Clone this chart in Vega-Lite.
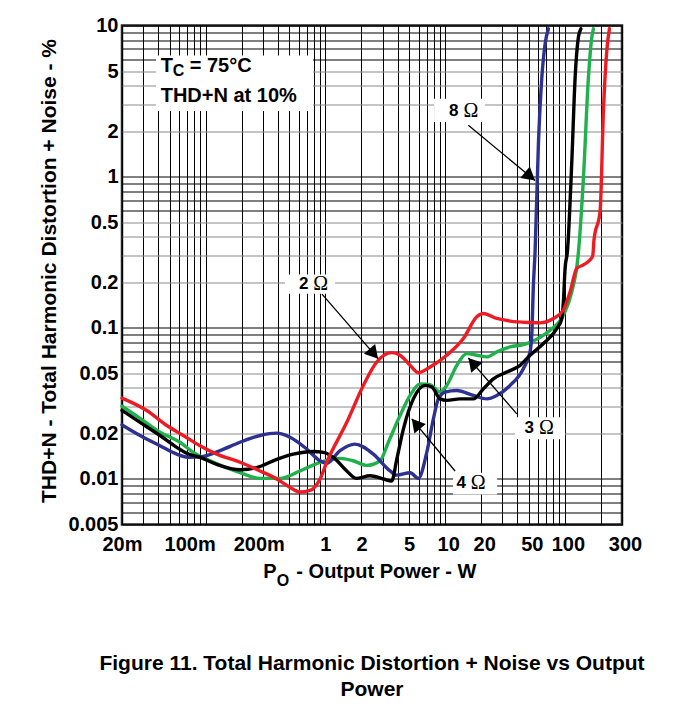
{
  "$schema": "https://vega.github.io/schema/vega-lite/v6.json",
  "width": 500,
  "height": 499,
  "autosize": "none",
  "padding": {"left": 122, "top": 25.5, "right": 54, "bottom": 185.5},
  "background": "white",
  "config": {"view": {"stroke": "#222222", "strokeWidth": 2.5}, "font": "Liberation Sans"},
  "title": {
    "text": ["Figure 11. Total Harmonic Distortion + Noise vs Output", "Power"],
    "orient": "bottom", "anchor": "middle", "frame": "group",
    "font": "Liberation Sans", "fontSize": 21, "fontWeight": "bold", "color": "#000000",
    "lineHeight": 26, "offset": 64
  },
  "datasets": {
    "curves": [
      {"load": "3 Ω", "p": 0.02, "thd": 0.0303},
      {"load": "3 Ω", "p": 0.0283, "thd": 0.0252},
      {"load": "3 Ω", "p": 0.0415, "thd": 0.0204},
      {"load": "3 Ω", "p": 0.061, "thd": 0.0175},
      {"load": "3 Ω", "p": 0.0788, "thd": 0.015},
      {"load": "3 Ω", "p": 0.1087, "thd": 0.0132},
      {"load": "3 Ω", "p": 0.1936, "thd": 0.011},
      {"load": "3 Ω", "p": 0.2844, "thd": 0.0101},
      {"load": "3 Ω", "p": 0.418, "thd": 0.0101},
      {"load": "3 Ω", "p": 0.614, "thd": 0.0113},
      {"load": "3 Ω", "p": 0.902, "thd": 0.0129},
      {"load": "3 Ω", "p": 1.325, "thd": 0.0137},
      {"load": "3 Ω", "p": 1.702, "thd": 0.0132},
      {"load": "3 Ω", "p": 2.214, "thd": 0.0123},
      {"load": "3 Ω", "p": 2.86, "thd": 0.0132},
      {"load": "3 Ω", "p": 3.356, "thd": 0.0175},
      {"load": "3 Ω", "p": 4.202, "thd": 0.0263},
      {"load": "3 Ω", "p": 5.094, "thd": 0.0357},
      {"load": "3 Ω", "p": 6.174, "thd": 0.0426},
      {"load": "3 Ω", "p": 7.486, "thd": 0.042},
      {"load": "3 Ω", "p": 9.072, "thd": 0.0376},
      {"load": "3 Ω", "p": 10.32, "thd": 0.0416},
      {"load": "3 Ω", "p": 12.51, "thd": 0.0565},
      {"load": "3 Ω", "p": 15.16, "thd": 0.0675},
      {"load": "3 Ω", "p": 18.38, "thd": 0.0659},
      {"load": "3 Ω", "p": 22.28, "thd": 0.0642},
      {"load": "3 Ω", "p": 27.0, "thd": 0.0693},
      {"load": "3 Ω", "p": 34.9, "thd": 0.0748},
      {"load": "3 Ω", "p": 45.0, "thd": 0.0774},
      {"load": "3 Ω", "p": 58.3, "thd": 0.0841},
      {"load": "3 Ω", "p": 75.3, "thd": 0.0965},
      {"load": "3 Ω", "p": 97.2, "thd": 0.1214},
      {"load": "3 Ω", "p": 114.3, "thd": 0.1734},
      {"load": "3 Ω", "p": 129, "thd": 0.3},
      {"load": "3 Ω", "p": 142.9, "thd": 0.982},
      {"load": "3 Ω", "p": 157.3, "thd": 4.53},
      {"load": "3 Ω", "p": 167.9, "thd": 8.36},
      {"load": "3 Ω", "p": 173.1, "thd": 9.51},

      {"load": "8 Ω", "p": 0.02, "thd": 0.0228},
      {"load": "8 Ω", "p": 0.0283, "thd": 0.0194},
      {"load": "8 Ω", "p": 0.0415, "thd": 0.0166},
      {"load": "8 Ω", "p": 0.0573, "thd": 0.0146},
      {"load": "8 Ω", "p": 0.074, "thd": 0.0139},
      {"load": "8 Ω", "p": 0.095, "thd": 0.0141},
      {"load": "8 Ω", "p": 0.1318, "thd": 0.0154},
      {"load": "8 Ω", "p": 0.1936, "thd": 0.0175},
      {"load": "8 Ω", "p": 0.2844, "thd": 0.0194},
      {"load": "8 Ω", "p": 0.392, "thd": 0.0201},
      {"load": "8 Ω", "p": 0.506, "thd": 0.0189},
      {"load": "8 Ω", "p": 0.698, "thd": 0.0158},
      {"load": "8 Ω", "p": 0.902, "thd": 0.0132},
      {"load": "8 Ω", "p": 1.026, "thd": 0.0127},
      {"load": "8 Ω", "p": 1.325, "thd": 0.0154},
      {"load": "8 Ω", "p": 1.76, "thd": 0.017},
      {"load": "8 Ω", "p": 2.514, "thd": 0.0146},
      {"load": "8 Ω", "p": 3.468, "thd": 0.0113},
      {"load": "8 Ω", "p": 3.944, "thd": 0.0106},
      {"load": "8 Ω", "p": 5.094, "thd": 0.011},
      {"load": "8 Ω", "p": 5.976, "thd": 0.0101},
      {"load": "8 Ω", "p": 7.024, "thd": 0.015},
      {"load": "8 Ω", "p": 7.976, "thd": 0.025},
      {"load": "8 Ω", "p": 8.78, "thd": 0.0339},
      {"load": "8 Ω", "p": 9.986, "thd": 0.0376},
      {"load": "8 Ω", "p": 12.51, "thd": 0.0385},
      {"load": "8 Ω", "p": 17.21, "thd": 0.0357},
      {"load": "8 Ω", "p": 22.28, "thd": 0.0339},
      {"load": "8 Ω", "p": 27.0, "thd": 0.0357},
      {"load": "8 Ω", "p": 34.9, "thd": 0.0416},
      {"load": "8 Ω", "p": 45.0, "thd": 0.0537},
      {"load": "8 Ω", "p": 51.2, "thd": 0.0693},
      {"load": "8 Ω", "p": 52.9, "thd": 0.0894},
      {"load": "8 Ω", "p": 54.6, "thd": 0.1922},
      {"load": "8 Ω", "p": 56.4, "thd": 0.3199},
      {"load": "8 Ω", "p": 60.1, "thd": 1.637},
      {"load": "8 Ω", "p": 64.2, "thd": 4.53},
      {"load": "8 Ω", "p": 68.4, "thd": 7.56},
      {"load": "8 Ω", "p": 72.9, "thd": 9.51},

      {"load": "4 Ω", "p": 0.02, "thd": 0.0284},
      {"load": "4 Ω", "p": 0.0283, "thd": 0.0237},
      {"load": "4 Ω", "p": 0.0415, "thd": 0.0194},
      {"load": "4 Ω", "p": 0.0573, "thd": 0.0162},
      {"load": "4 Ω", "p": 0.0694, "thd": 0.0148},
      {"load": "4 Ω", "p": 0.0897, "thd": 0.0139},
      {"load": "4 Ω", "p": 0.1237, "thd": 0.0125},
      {"load": "4 Ω", "p": 0.1936, "thd": 0.0115},
      {"load": "4 Ω", "p": 0.267, "thd": 0.0119},
      {"load": "4 Ω", "p": 0.392, "thd": 0.0135},
      {"load": "4 Ω", "p": 0.54, "thd": 0.0146},
      {"load": "4 Ω", "p": 0.793, "thd": 0.0152},
      {"load": "4 Ω", "p": 0.961, "thd": 0.015},
      {"load": "4 Ω", "p": 1.165, "thd": 0.0139},
      {"load": "4 Ω", "p": 1.508, "thd": 0.0113},
      {"load": "4 Ω", "p": 1.8, "thd": 0.0101},
      {"load": "4 Ω", "p": 2.36, "thd": 0.0105},
      {"load": "4 Ω", "p": 3.048, "thd": 0.01},
      {"load": "4 Ω", "p": 3.582, "thd": 0.0097},
      {"load": "4 Ω", "p": 3.944, "thd": 0.0135},
      {"load": "4 Ω", "p": 4.478, "thd": 0.0214},
      {"load": "4 Ω", "p": 5.428, "thd": 0.0339},
      {"load": "4 Ω", "p": 6.798, "thd": 0.0416},
      {"load": "4 Ω", "p": 7.734, "thd": 0.0406},
      {"load": "4 Ω", "p": 9.072, "thd": 0.0339},
      {"load": "4 Ω", "p": 10.32, "thd": 0.0331},
      {"load": "4 Ω", "p": 13.33, "thd": 0.0339},
      {"load": "4 Ω", "p": 17.21, "thd": 0.0339},
      {"load": "4 Ω", "p": 20.87, "thd": 0.0395},
      {"load": "4 Ω", "p": 25.3, "thd": 0.046},
      {"load": "4 Ω", "p": 32.7, "thd": 0.051},
      {"load": "4 Ω", "p": 42.3, "thd": 0.0565},
      {"load": "4 Ω", "p": 51.2, "thd": 0.0659},
      {"load": "4 Ω", "p": 66.2, "thd": 0.0787},
      {"load": "4 Ω", "p": 85.6, "thd": 0.0989},
      {"load": "4 Ω", "p": 94.3, "thd": 0.1153},
      {"load": "4 Ω", "p": 97.2, "thd": 0.1489},
      {"load": "4 Ω", "p": 100.4, "thd": 0.2475},
      {"load": "4 Ω", "p": 105, "thd": 0.32},
      {"load": "4 Ω", "p": 114.3, "thd": 1.268},
      {"load": "4 Ω", "p": 121.8, "thd": 4.53},
      {"load": "4 Ω", "p": 129.7, "thd": 8.36},
      {"load": "4 Ω", "p": 135.9, "thd": 9.51},

      {"load": "2 Ω", "p": 0.02, "thd": 0.0343},
      {"load": "2 Ω", "p": 0.0322, "thd": 0.0284},
      {"load": "2 Ω", "p": 0.0473, "thd": 0.0226},
      {"load": "2 Ω", "p": 0.065, "thd": 0.0194},
      {"load": "2 Ω", "p": 0.0897, "thd": 0.0166},
      {"load": "2 Ω", "p": 0.1237, "thd": 0.0146},
      {"load": "2 Ω", "p": 0.1936, "thd": 0.0129},
      {"load": "2 Ω", "p": 0.2844, "thd": 0.0113},
      {"load": "2 Ω", "p": 0.392, "thd": 0.01},
      {"load": "2 Ω", "p": 0.506, "thd": 0.0088},
      {"load": "2 Ω", "p": 0.614, "thd": 0.0082},
      {"load": "2 Ω", "p": 0.744, "thd": 0.0084},
      {"load": "2 Ω", "p": 0.902, "thd": 0.01},
      {"load": "2 Ω", "p": 1.026, "thd": 0.0129},
      {"load": "2 Ω", "p": 1.508, "thd": 0.0237},
      {"load": "2 Ω", "p": 2.074, "thd": 0.0416},
      {"load": "2 Ω", "p": 2.684, "thd": 0.0594},
      {"load": "2 Ω", "p": 3.582, "thd": 0.0685},
      {"load": "2 Ω", "p": 4.202, "thd": 0.0659},
      {"load": "2 Ω", "p": 5.094, "thd": 0.0565},
      {"load": "2 Ω", "p": 5.976, "thd": 0.0505},
      {"load": "2 Ω", "p": 7.486, "thd": 0.0551},
      {"load": "2 Ω", "p": 10.32, "thd": 0.0659},
      {"load": "2 Ω", "p": 14.2, "thd": 0.0849},
      {"load": "2 Ω", "p": 18.38, "thd": 0.1183},
      {"load": "2 Ω", "p": 20.87, "thd": 0.1245},
      {"load": "2 Ω", "p": 27.0, "thd": 0.1153},
      {"load": "2 Ω", "p": 34.9, "thd": 0.1108},
      {"load": "2 Ω", "p": 51.2, "thd": 0.1084},
      {"load": "2 Ω", "p": 62.1, "thd": 0.1079},
      {"load": "2 Ω", "p": 80.2, "thd": 0.1153},
      {"load": "2 Ω", "p": 97.2, "thd": 0.1311},
      {"load": "2 Ω", "p": 110.6, "thd": 0.1734},
      {"load": "2 Ω", "p": 125.8, "thd": 0.2475},
      {"load": "2 Ω", "p": 142.9, "thd": 0.261},
      {"load": "2 Ω", "p": 162.5, "thd": 0.2817},
      {"load": "2 Ω", "p": 171, "thd": 0.3},
      {"load": "2 Ω", "p": 175, "thd": 0.38},
      {"load": "2 Ω", "p": 196.9, "thd": 0.59},
      {"load": "2 Ω", "p": 209.9, "thd": 2.72},
      {"load": "2 Ω", "p": 224, "thd": 6.82},
      {"load": "2 Ω", "p": 235.5, "thd": 9.51}
    ],
    "boxes": [
      {"p": 0.0385, "p2": 0.788, "thd": 6.32, "thd2": 2.72},
      {"p": 0.46, "p2": 1.204, "thd": 0.225, "thd2": 0.1682},
      {"p": 8.08, "p2": 21.56, "thd": 3.273, "thd2": 2.302},
      {"p": 38.4, "p2": 100.4, "thd": 0.02562, "thd2": 0.0183},
      {"p": 11.65, "p2": 27.2, "thd": 0.011, "thd2": 0.00789}
    ],
    "arrows": [
      {"label": "2", "p": 0.937, "thd": 0.167, "p2": 2.752, "thd2": 0.0625},
      {"label": "8", "p": 15.63, "thd": 2.188, "p2": 56.4, "thd2": 0.9434},
      {"label": "3", "p": 39.7, "thd": 0.02695, "p2": 15.63, "thd2": 0.0632},
      {"label": "4", "p": 12.1, "thd": 0.0113, "p2": 5.26, "thd2": 0.025}
    ],
    "labels": [
      {"label": "2", "unit": "Ω", "p": 0.7556, "thd": 0.1961},
      {"label": "8", "unit": "Ω", "p": 13.54, "thd": 2.732},
      {"label": "3", "unit": "Ω", "p": 57.84, "thd": 0.02189},
      {"label": "4", "unit": "Ω", "p": 15.63, "thd": 0.00948}
    ]
  },
  "encoding": {
    "x": {
      "field": "p", "type": "quantitative",
      "scale": {"type": "log", "domain": [0.02, 300], "nice": false},
      "axis": {
        "values": [0.02,0.03,0.04,0.05,0.06,0.07,0.08,0.09,0.1,0.2,0.3,0.4,0.5,0.6,0.7,0.8,0.9,1,2,3,4,5,6,7,8,9,10,20,30,40,50,60,70,80,90,100,200,300],
        "labelExpr": "datum.value == 0.02 ? '20m' : datum.value == 0.1 ? '100m' : datum.value == 0.2 ? '200m' : indexof([1,2,5,10,20,50,100,300], datum.value) >= 0 ? toString(datum.value) : ''",
        "grid": true, "gridColor": "#000000", "gridWidth": 1, "gridOpacity": 1,
        "domain": false, "ticks": false, "tickSize": 0,
        "labelFont": "Liberation Sans", "labelFontSize": 20, "labelFontWeight": "bold", "labelColor": "#000000",
        "labelPadding": 10, "labelOverlap": false, "labelBound": false, "labelFlush": false,
        "labelOffset": {"condition": [{"test": "datum.value == 0.1", "value": -16}, {"test": "datum.value == 0.2", "value": 17}, {"test": "datum.value >= 10", "value": 3}], "value": 0},
        "title": null
      }
    },
    "y": {
      "field": "thd", "type": "quantitative",
      "scale": {"type": "log", "domain": [0.005, 10], "nice": false},
      "axis": {
        "values": [0.005,0.006,0.007,0.008,0.009,0.01,0.02,0.03,0.04,0.05,0.06,0.07,0.08,0.09,0.1,0.2,0.3,0.4,0.5,0.6,0.7,0.8,0.9,1,2,3,4,5,6,7,8,9,10],
        "labelExpr": "indexof([0.005,0.01,0.02,0.05,0.1,0.2,0.5,1,2,5,10], datum.value) >= 0 ? toString(datum.value) : ''",
        "grid": true, "gridWidth": 1, "gridOpacity": 1,
        "gridColor": {"condition": {"test": "indexof([0.02,0.03,0.04,0.05,0.2,0.3,0.4,0.5,2,3,4,5], datum.value) >= 0", "value": "#8a8a8a"}, "value": "#000000"},
        "domain": false, "ticks": false, "tickSize": 0,
        "labelFont": "Liberation Sans", "labelFontSize": 20, "labelFontWeight": "bold", "labelColor": "#000000",
        "labelPadding": 4, "labelOverlap": false, "labelBound": false, "labelFlush": false,
        "title": "THD+N - Total Harmonic Distortion + Noise - %",
        "titleFont": "Liberation Sans", "titleFontSize": 21, "titleFontWeight": "bold", "titleColor": "#000000",
        "titleAngle": -90, "titleAlign": "center", "titleBaseline": "alphabetic", "titleX": -67, "titleY": 245
      }
    }
  },
  "layer": [
    {
      "data": {"name": "boxes"},
      "mark": {"type": "rect", "fill": "#ffffff", "stroke": null},
      "encoding": {"x2": {"field": "p2"}, "y2": {"field": "thd2"}}
    },
    {
      "data": {"name": "curves"},
      "mark": {"type": "line", "strokeWidth": 3.4, "interpolate": "monotone", "strokeCap": "round", "strokeJoin": "round"},
      "encoding": {
        "color": {"field": "load", "type": "nominal", "scale": {"domain": ["2 Ω", "3 Ω", "4 Ω", "8 Ω"], "range": ["#ed1c24", "#1fb14c", "#000000", "#2e3192"]}, "legend": null}
      }
    },
    {
      "data": {"name": "arrows"},
      "mark": {"type": "rule", "color": "#000000", "strokeWidth": 1.3},
      "encoding": {"x2": {"field": "p2"}, "y2": {"field": "thd2"}}
    },
    {
      "data": {"name": "arrows"},
      "transform": [{"filter": "datum.label == '2'"}],
      "mark": {"type": "point", "shape": "M0,0L1.15,2L-1.15,2Z", "size": 169, "filled": true, "color": "#000000", "opacity": 1, "strokeWidth": 0, "angle": 138.9},
      "encoding": {"x": {"field": "p2", "type": "quantitative"}, "y": {"field": "thd2", "type": "quantitative"}}
    },
    {
      "data": {"name": "arrows"},
      "transform": [{"filter": "datum.label == '8'"}],
      "mark": {"type": "point", "shape": "M0,0L1.15,2L-1.15,2Z", "size": 169, "filled": true, "color": "#000000", "opacity": 1, "strokeWidth": 0, "angle": 129.5},
      "encoding": {"x": {"field": "p2", "type": "quantitative"}, "y": {"field": "thd2", "type": "quantitative"}}
    },
    {
      "data": {"name": "arrows"},
      "transform": [{"filter": "datum.label == '3'"}],
      "mark": {"type": "point", "shape": "M0,0L1.15,2L-1.15,2Z", "size": 169, "filled": true, "color": "#000000", "opacity": 1, "strokeWidth": 0, "angle": -41},
      "encoding": {"x": {"field": "p2", "type": "quantitative"}, "y": {"field": "thd2", "type": "quantitative"}}
    },
    {
      "data": {"name": "arrows"},
      "transform": [{"filter": "datum.label == '4'"}],
      "mark": {"type": "point", "shape": "M0,0L1.15,2L-1.15,2Z", "size": 169, "filled": true, "color": "#000000", "opacity": 1, "strokeWidth": 0, "angle": -40},
      "encoding": {"x": {"field": "p2", "type": "quantitative"}, "y": {"field": "thd2", "type": "quantitative"}}
    },
    {
      "data": {"name": "labels"},
      "mark": {"type": "text", "align": "right", "baseline": "middle", "dx": -2.5, "font": "Liberation Sans", "fontSize": 17, "fontWeight": "bold", "color": "#000000"},
      "encoding": {"text": {"field": "label"}}
    },
    {
      "data": {"name": "labels"},
      "mark": {"type": "text", "align": "left", "baseline": "middle", "dx": 2.5, "dy": 0.5, "font": "Liberation Serif", "fontSize": 20, "color": "#000000"},
      "encoding": {"text": {"field": "unit"}}
    },
    {
      "data": {"values": [{"t": "T", "p": 0.0421, "thd": 4.948}]},
      "mark": {"type": "text", "align": "left", "baseline": "alphabetic", "font": "Liberation Sans", "fontSize": 20, "fontWeight": "bold", "color": "#000000"},
      "encoding": {"text": {"field": "t"}}
    },
    {
      "data": {"values": [{"t": "C", "p": 0.0421, "thd": 4.948}]},
      "mark": {"type": "text", "align": "left", "baseline": "alphabetic", "dx": 12, "dy": 4, "font": "Liberation Sans", "fontSize": 16, "fontWeight": "bold", "color": "#000000"},
      "encoding": {"text": {"field": "t"}}
    },
    {
      "data": {"values": [{"t": "= 75°C", "p": 0.0421, "thd": 4.948}]},
      "mark": {"type": "text", "align": "left", "baseline": "alphabetic", "dx": 29, "font": "Liberation Sans", "fontSize": 20, "fontWeight": "bold", "color": "#000000"},
      "encoding": {"text": {"field": "t"}}
    },
    {
      "data": {"values": [{"t": "THD+N at 10%", "p": 0.0421, "thd": 3.141}]},
      "mark": {"type": "text", "align": "left", "baseline": "alphabetic", "font": "Liberation Sans", "fontSize": 20, "fontWeight": "bold", "color": "#000000"},
      "encoding": {"text": {"field": "t"}}
    },
    {
      "data": {"values": [{"t": "P", "p": 0.3032, "thd": 0.005}]},
      "mark": {"type": "text", "align": "left", "baseline": "alphabetic", "dy": 53, "font": "Liberation Sans", "fontSize": 20, "fontWeight": "bold", "color": "#000000"},
      "encoding": {"text": {"field": "t"}}
    },
    {
      "data": {"values": [{"t": "O", "p": 0.3032, "thd": 0.005}]},
      "mark": {"type": "text", "align": "left", "baseline": "alphabetic", "dx": 13.4, "dy": 61, "font": "Liberation Sans", "fontSize": 16, "fontWeight": "bold", "color": "#000000"},
      "encoding": {"text": {"field": "t"}}
    },
    {
      "data": {"values": [{"t": "- Output Power - W", "p": 0.3032, "thd": 0.005}]},
      "mark": {"type": "text", "align": "left", "baseline": "alphabetic", "dx": 33, "dy": 53, "font": "Liberation Sans", "fontSize": 20, "fontWeight": "bold", "color": "#000000"},
      "encoding": {"text": {"field": "t"}}
    }
  ]
}
